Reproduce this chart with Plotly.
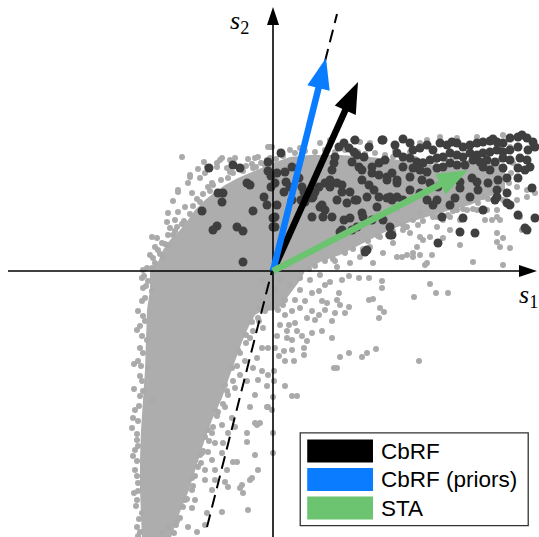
import math
import plotly.graph_objects as go

# ---------------- data (stimulus-space coordinates, arbitrary units) ----------------
# outline of the dense part of the stimulus cloud
CLOUD_OUTLINE = [
    (-123, 0), (-115, 9), (-110, 21), (-103, 31), (-93, 41), (-85, 51), (-78, 61), (-68, 71),
    (-58, 79), (-48, 86), (-35, 93), (-23, 98), (-11, 103), (0, 108), (17, 114), (37, 116),
    (67, 116), (97, 114), (127, 111), (157, 106), (197, 111), (232, 106), (232, 81), (197, 66),
    (167, 58), (137, 49), (112, 39), (87, 26), (67, 16), (47, 9), (32, 0), (28, -8), (18, -22),
    (8, -35), (0, -40), (-8, -38), (-18, -44), (-25, -57), (-31, -71), (-37, -87), (-43, -104),
    (-51, -127), (-61, -149), (-69, -171), (-76, -194), (-84, -219), (-93, -241), (-103, -269),
    (-131, -269), (-132, -244), (-133, -219), (-133, -189), (-132, -159), (-130, -129),
    (-128, -99), (-127, -69), (-126, -39), (-123, -19), (-123, 0),
]

# individual stimuli (no spike), light gray
GRAY_POINTS = [
    (-91, 114), (-69, 109), (-56, 108), (-51, 113), (-43, 111), (-38, 113), (-25, 112), (-21, 107),
    (-15, 114), (-6, 111), (-5, 124), (-1, 124), (-75, 102), (-83, 96), (-85, 88), (-95, 79),
    (-100, 70), (-81, 78), (-73, 93), (-68, 98), (-61, 88), (-105, 58), (-106, 49), (-103, 43),
    (-95, 59), (-121, 34), (-116, 33), (-118, 24), (-115, 21), (-123, 16), (-120, 13), (-126, 3),
    (-121, 3), (-88, 64), (-98, 51), (-111, 28), (-105, 36), (-130, 1), (-95, 81), (-83, 94),
    (-66, 104), (-56, 104), (-53, 111), (-46, 103), (-18, 113), (-3, 124),
    (-118, 8), (-113, 17), (-108, 27), (-100, 36), (-96, 44), (-89, 50), (-83, 57), (-80, 65),
    (-73, 69), (-70, 77), (-63, 80), (-60, 86), (-52, 91), (-45, 93), (-40, 98), (-30, 100),
    (-27, 105), (-17, 104), (-12, 108), (-8, 106), (-3, 113), (3, 112), (-110, 14), (-105, 26),
    (-98, 40), (-91, 47), (-76, 72), (-65, 84), (-43, 99), (-20, 103),
    (47, 128), (57, 131), (80, 131), (87, 129), (97, 128), (154, 131), (167, 134), (184, 133),
    (204, 134), (230, 136), (147, 128), (227, 124), (237, 124), (259, 124), (17, 121), (27, 123),
    (7, 119), (122, 121), (137, 119),
    (10, 115), (22, 118), (32, 120), (42, 119), (52, 121), (62, 119), (72, 121), (85, 119),
    (92, 117), (102, 118), (112, 116), (120, 114), (132, 115), (142, 112), (150, 110), (162, 110),
    (172, 112), (180, 113), (190, 114), (205, 113), (215, 112), (225, 110), (240, 108), (238, 98),
    (236, 88),
    (207, 104), (227, 91), (234, 94), (244, 84), (254, 81), (260, 84), (210, 74), (217, 81),
    (197, 71), (204, 61), (194, 61), (184, 61), (177, 54), (170, 51), (164, 54), (147, 58),
    (140, 51), (134, 44), (137, 38), (147, 34), (157, 34), (170, 33), (177, 41), (187, 51),
    (212, 51), (219, 51), (227, 51), (224, 61), (224, 38), (230, 33), (224, 29), (247, 54),
    (249, 41), (237, 23), (227, 24), (230, 6), (200, 9), (187, 26), (144, 24), (134, 16),
    (140, 14), (147, 16), (159, 16), (154, 8), (152, 6), (129, 14), (244, 71), (254, 74), (262, 78),
    (124, 61), (114, 51), (130, 41), (107, 34), (120, 28), (97, 24), (110, 18), (87, 14), (77, 8),
    (124, 14), (100, 8), (64, 4), (140, 18), (150, 31), (164, 44), (214, 61), (230, 71), (224, 54),
    (215, 72), (205, 68), (190, 62), (180, 60), (160, 54), (150, 50), (130, 46), (120, 40),
    (105, 35), (95, 30), (80, 22), (72, 18), (60, 12), (52, 10), (42, 5), (36, 2), (200, 62),
    (175, 56), (145, 46), (115, 36), (90, 22), (62, 10),
    (157, -13), (163, -22), (175, -22), (141, -26), (109, -10), (109, -17), (96, -29), (100, -28),
    (107, -37), (111, -41), (106, -47), (76, -36), (72, -42), (67, -34), (64, -29), (62, -42),
    (59, -50), (59, -67), (49, -60), (42, -49), (46, -44), (39, -62), (34, -70), (31, -77),
    (31, -84), (21, -90), (12, -90), (12, -115), (19, -79), (14, -67), (19, -69), (24, -60),
    (29, -65), (14, -60), (4, -65), (2, -77), (11, -80), (6, -85), (1, -100), (1, -110), (61, -97),
    (64, -97), (67, -86), (76, -82), (89, -86), (94, -82), (103, -78), (146, -90), (19, -125),
    (24, -125), (76, -5), (86, -7), (96, -7), (69, -9), (66, -22), (52, -14), (46, -20), (39, -22),
    (49, -30), (32, -30), (27, -37), (19, -40), (12, -44), (7, -54), (16, -54), (22, -52), (39, -40),
    (52, -39), (54, -32), (34, -47), (7, -9), (17, -14), (27, -19), (12, -29), (5, -39), (22, -29),
    (37, -9), (47, -4), (57, -11), (2, -19), (10, -34), (27, -7),
    (0, -126), (-1, -139), (0, -162), (0, -182), (-5, -136), (-13, -152), (-16, -154), (-26, -162),
    (-26, -171), (-18, -184), (-15, -199), (-21, -207), (-36, -191), (-33, -217), (-30, -222),
    (-23, -136), (-6, -136), (-18, -152), (-23, -209), (-31, -214), (-25, -239), (-45, -216),
    (-51, -241), (-66, -242), (-48, -211), (-58, -209), (-61, -219), (-68, -209), (-68, -199),
    (-58, -199), (-61, -189), (-71, -182), (-65, -181), (-51, -182), (-40, -191), (-46, -199),
    (-50, -172), (-58, -172), (-45, -162), (-38, -156), (-41, -147), (-51, -154), (-61, -162),
    (-48, -136), (-55, -141), (-68, -166), (-75, -196), (-81, -219), (-78, -229), (-81, -237),
    (-85, -256), (-68, -254), (-76, -261), (-93, -247), (-105, -256), (-111, -261),
    (-141, -157), (-136, -169), (-138, -199), (-135, -212), (-136, -229), (-131, -242), (-136, -256),
    (-133, -261), (-138, -179), (-131, -7), (-130, -17), (-128, -27), (-135, -40), (-136, -59),
    (-133, -77), (-135, -90), (-133, -105), (-130, -120), (-125, -10), (-121, -20), (-128, -50),
    (-126, -69), (-125, -97), (-121, -129), (-138, -139),
    (-129, -5), (-127, -15), (-131, -30), (-130, -45), (-133, -55), (-131, -65), (-130, -82),
    (-132, -95), (-131, -110), (-133, -125), (-134, -135), (-135, -150), (-136, -163), (-135, -175),
    (-136, -190), (-136, -205), (-135, -220), (-137, -235), (-134, -248), (-135, -265), (-139, -93),
    (-139, -118), (-140, -147), (-140, -185), (-139, -222),
    (-11, -10), (-6, -17), (-5, -37), (-11, -30), (-15, -47), (-10, -57), (-5, -77), (-11, -77),
    (-16, -87), (-11, -100), (-15, -109), (-6, -115), (-20, -97), (-26, -110), (-18, -124),
    (-23, -67), (-28, -90), (-33, -104), (-38, -117), (-45, -124), (-5, -104), (-35, -79),
    (-41, -97), (-48, -114), (-58, -139), (-65, -159), (-73, -184), (-81, -207), (-88, -229),
    (-97, -254), (-27, -64), (-21, -51), (-15, -37),
    (-8, -40), (-14, -50), (-20, -60), (-27, -72), (-33, -82), (-36, -95), (-40, -110),
    (-46, -120), (-50, -133), (-56, -145), (-60, -156), (-64, -170), (-70, -180), (-72, -192),
    (-78, -205), (-80, -215), (-86, -228), (-90, -236), (-96, -250), (-99, -262),
]

# spike-eliciting stimuli, dark gray
DARK_POINTS = [
    (-64, 103), (-40, 106), (-33, 103), (-26, 88), (-23, 86), (-55, 78), (-50, 78), (-51, 69),
    (-71, 60), (-20, 60), (-9, 74), (-6, 66), (-5, 109), (-5, 100), (-2, 95), (-2, 84), (0, 53),
    (0, 44), (-56, 45), (-60, 41), (-36, 44), (-30, 40), (-30, 9),
    (8, 118), (12, 99), (13, 89), (11, 79), (17, 84), (26, 93), (29, 84), (31, 79), (19, 71),
    (28, 71), (39, 73), (42, 79), (46, 84), (52, 88), (57, 84), (49, 66), (52, 61), (57, 91),
    (59, 101), (61, 108), (62, 114), (66, 124), (71, 128), (76, 123), (81, 119), (84, 116),
    (91, 114), (79, 109), (86, 104), (89, 101), (99, 98), (106, 96), (114, 94), (119, 98),
    (99, 104), (106, 108), (112, 111), (82, 131), (96, 124), (109, 131), (64, 88), (69, 86),
    (69, 79), (77, 79), (82, 71), (89, 91), (96, 86), (101, 81), (106, 74), (114, 73), (119, 71),
    (124, 74), (124, 91), (4, 66), (2, 54), (2, 44), (59, 54), (71, 51), (77, 53), (89, 58),
    (69, 41), (79, 41), (92, 19), (119, 36), (99, 51), (39, 54), (32, 69), (19, 104), (4, 98),
    (2, 88),
    (110, 131), (130, 132), (137, 128), (122, 126), (140, 121), (147, 123), (154, 126), (160, 121),
    (167, 128), (174, 126), (179, 129), (184, 128), (190, 124), (197, 126), (204, 128), (210, 129),
    (217, 130), (224, 129), (230, 128), (237, 133), (245, 134), (254, 133), (260, 129), (249, 136),
    (220, 132), (124, 118), (130, 114), (137, 113), (144, 109), (150, 108), (157, 111), (164, 113),
    (170, 114), (177, 118), (184, 116), (190, 114), (197, 118), (204, 116), (210, 118), (217, 119),
    (224, 121), (230, 119), (237, 121), (245, 124), (255, 121), (262, 124), (130, 104), (140, 103),
    (147, 101), (154, 99), (164, 103), (170, 104), (177, 108), (184, 106), (192, 106), (200, 111),
    (207, 109), (214, 111), (222, 109), (230, 113), (237, 111), (247, 113), (254, 111), (210, 104),
    (217, 101), (230, 103), (245, 103), (257, 104), (137, 94), (149, 91), (157, 88), (165, 84),
    (177, 91), (187, 89), (199, 93), (204, 89), (215, 88), (225, 91), (234, 93), (245, 93),
    (224, 81), (234, 78), (187, 83), (197, 74), (205, 81), (222, 71), (237, 66), (245, 56),
    (262, 53), (254, 41), (210, 61), (190, 53), (182, 73), (169, 54), (164, 71), (187, 39),
    (202, 38), (165, 28), (160, 66), (177, 66), (94, 21), (67, 39), (117, 36), (224, 74),
    (234, 68), (252, 43), (252, 101), (259, 83), (64, 71), (74, 68), (84, 71), (94, 74), (47, 64),
    (40, 74), (50, 54), (90, 54), (104, 64), (117, 74), (130, 71), (137, 81), (124, 88), (114, 91),
    (147, 78), (154, 71), (110, 51), (117, 44), (84, 44),
]

# receptive-field estimates (vectors from the origin)
VEC_NAMES = ["CbRF", "CbRF (priors)", "STA"]
VEC_S1 = [85, 53, 195]
VEC_S2 = [189, 213, 101]
VEC_COLORS = ["#000000", "#0a7cff", "#6cc470"]

# dashed reference direction
DASH_S1 = [-66, 64]
DASH_S2 = [-256, 257]

# axes extent
X_AXIS = (-265, 264)
Y_AXIS = (-266, 264)
AXIS_LABELS = ["<i>s</i><sub>1</sub>", "<i>s</i><sub>2</sub>"]

# ---------------- figure ----------------
W, H = 539, 537
X_RANGE = [-273, 266]
Y_RANGE = [-266, 271]

fig = go.Figure()

cx, cy = zip(*CLOUD_OUTLINE)
fig.add_trace(go.Scatter(x=list(cx), y=list(cy), mode="lines", fill="toself",
                         fillcolor="#adadad", line=dict(width=0, color="#adadad"),
                         hoverinfo="skip", showlegend=False))

gx, gy = zip(*GRAY_POINTS)
fig.add_trace(go.Scatter(x=list(gx), y=list(gy), mode="markers",
                         marker=dict(size=6, color="#aaaaaa", line=dict(width=0)),
                         hoverinfo="skip", showlegend=False))

dx, dy = zip(*DARK_POINTS)
fig.add_trace(go.Scatter(x=list(dx), y=list(dy), mode="markers",
                         marker=dict(size=9, color="#3f3f3f", line=dict(width=0)),
                         hoverinfo="skip", showlegend=False))

fig.add_trace(go.Scatter(x=DASH_S1, y=DASH_S2, mode="lines",
                         line=dict(color="black", width=2, dash="13px,7px"),
                         hoverinfo="skip", showlegend=False))


def head(tx, ty, ux, uy, length, width):
    bx, by = tx - ux * length, ty - uy * length
    nx, ny = -uy, ux
    return ([tx, bx + nx * width / 2, bx - nx * width / 2, tx],
            [ty, by + ny * width / 2, by - ny * width / 2, ty])


def add_arrow(x0, y0, tx, ty, color, lw, hl, hw):
    n = math.hypot(tx - x0, ty - y0)
    ux, uy = (tx - x0) / n, (ty - y0) / n
    ex, ey = tx - ux * hl * 0.8, ty - uy * hl * 0.8
    fig.add_trace(go.Scatter(x=[x0, ex], y=[y0, ey], mode="lines",
                             line=dict(color=color, width=lw),
                             hoverinfo="skip", showlegend=False))
    hx, hy = head(tx, ty, ux, uy, hl, hw)
    fig.add_trace(go.Scatter(x=hx, y=hy, mode="lines", fill="toself",
                             fillcolor=color, line=dict(width=0, color=color),
                             hoverinfo="skip", showlegend=False))


# coordinate axes
add_arrow(X_AXIS[0], 0, X_AXIS[1], 0, "black", 1.6, 18, 12)
add_arrow(0, Y_AXIS[0], 0, Y_AXIS[1], "black", 1.6, 18, 12)

# RF vectors
for s1, s2, col in zip(VEC_S1, VEC_S2, VEC_COLORS):
    add_arrow(0, 0, s1, s2, col, 6.5, 31, 23)

# axis labels
fig.add_annotation(x=244, y=-25, xref="x", yref="y", text=AXIS_LABELS[0], showarrow=False,
                   xanchor="left", yanchor="middle",
                   font=dict(family="Liberation Serif", size=26, color="black"))
fig.add_annotation(x=-34, y=249, xref="x", yref="y", text=AXIS_LABELS[1], showarrow=False,
                   xanchor="center", yanchor="middle",
                   font=dict(family="Liberation Serif", size=26, color="black"))

# custom legend (paper coordinates)
shapes = [dict(type="rect", xref="paper", yref="paper", x0=0.557, x1=0.980, y0=0.021, y1=0.194,
               line=dict(color="#333333", width=1.3), fillcolor="white", layer="above")]
row_y = [0.160, 0.107, 0.054]
half = 0.0214
for name, col, yc in zip(VEC_NAMES, VEC_COLORS, row_y):
    shapes.append(dict(type="rect", xref="paper", yref="paper", x0=0.570, x1=0.692,
                       y0=yc - half, y1=yc + half, line=dict(width=0), fillcolor=col,
                       layer="above"))
    fig.add_annotation(x=0.703, y=yc, xref="paper", yref="paper", text=name, showarrow=False,
                       xanchor="left", yanchor="middle",
                       font=dict(family="Liberation Sans", size=22.5, color="black"))

fig.update_layout(
    width=W, height=H, autosize=False,
    margin=dict(l=0, r=0, t=0, b=0),
    paper_bgcolor="white", plot_bgcolor="white",
    xaxis=dict(range=X_RANGE, visible=False, fixedrange=True),
    yaxis=dict(range=Y_RANGE, visible=False, fixedrange=True),
    shapes=shapes,
    showlegend=False,
)

fig.write_html("out.html", config={"staticPlot": True},
               post_script="document.body.style.margin='0';document.body.style.padding='0';")
